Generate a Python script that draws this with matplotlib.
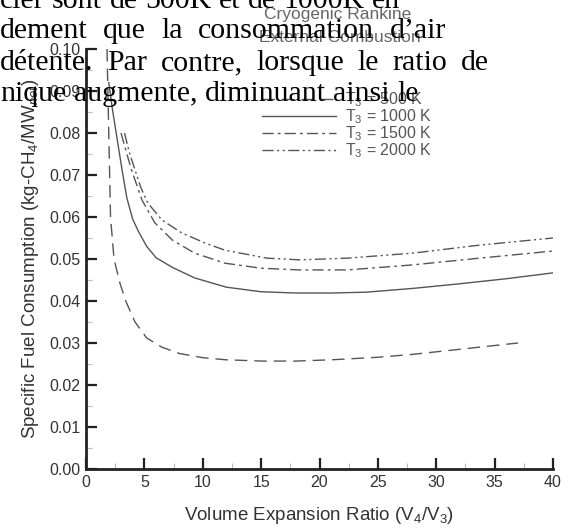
import matplotlib
matplotlib.use("Agg")
import matplotlib.pyplot as plt
from matplotlib.ticker import MultipleLocator, FormatStrFormatter

plt.rcParams['font.family'] = ['Liberation Sans', 'DejaVu Sans']
plt.rcParams['mathtext.fontset'] = 'custom'
plt.rcParams['mathtext.rm'] = 'Liberation Sans'
plt.rcParams['mathtext.it'] = 'Liberation Sans:italic'

# curves
x_500 = [1.8, 1.95, 2.1, 2.4, 2.9, 3.4, 4.2, 5.2, 6.5, 8.0, 10.0, 12.0, 15.0, 18.0, 21.0, 25.0, 28.0, 31.0, 34.0, 37.0]
y_500 = [0.100, 0.080, 0.060, 0.050, 0.0443, 0.0400, 0.0350, 0.0312, 0.0290, 0.0275, 0.0265, 0.0260, 0.0257, 0.0257, 0.0260, 0.0266, 0.0273, 0.0282, 0.0291, 0.0300]

x_1000 = [1.95, 2.3, 2.7, 3.1, 3.5, 4.0, 4.5, 5.2, 6.0, 7.4, 9.3, 12.0, 15.0, 18.0, 21.0, 24.0, 28.0, 32.0, 36.0, 40.0]
y_1000 = [0.092, 0.085, 0.078, 0.071, 0.0645, 0.0595, 0.0565, 0.0530, 0.0503, 0.0480, 0.0455, 0.0433, 0.0422, 0.0419, 0.0419, 0.0421, 0.0430, 0.0441, 0.0453, 0.0467]

x_1500 = [3.0, 3.4, 3.9, 4.8, 5.9, 7.4, 9.3, 11.9, 15.0, 18.3, 22.4, 28.0, 33.7, 40.0]
y_1500 = [0.080, 0.076, 0.0712, 0.0640, 0.0586, 0.0545, 0.0514, 0.0490, 0.0478, 0.0474, 0.0474, 0.0486, 0.0502, 0.0519]

x_2000 = [3.3, 3.7, 4.2, 4.7, 5.3, 6.5, 8.2, 10.2, 11.9, 15.5, 18.3, 22.4, 28.0, 33.7, 40.0]
y_2000 = [0.080, 0.0755, 0.0712, 0.0670, 0.0633, 0.0593, 0.0562, 0.0538, 0.0521, 0.0502, 0.0498, 0.0502, 0.0514, 0.0533, 0.0550]

labels = [r'T$_3$ = 500 K', r'T$_3$ = 1000 K', r'T$_3$ = 1500 K', r'T$_3$ = 2000 K']

# french text of the page that overlaps the scan
page_lines = [
    "cier sont de 500K et de 1000K en",
    "dement que la consommation d\u2019air",
    "d\u00e9tente. Par contre, lorsque le ratio de",
    "nique augmente, diminuant ainsi le",
]
page_baselines = [8, 38, 70, 101]
page_widths = [388, 446, 489, 415]   # right edge of each line in the scan

gray = '#555555'
W, H = 572, 529
fig = plt.figure(figsize=(W / 100, H / 100), dpi=100)
ax = fig.add_axes([86 / W, 1 - 469 / H, (553 - 86) / W, (469 - 49) / H])

ax.plot(x_500, y_500, color=gray, lw=1.0, dashes=(9, 5), label=labels[0])
ax.plot(x_1000, y_1000, color=gray, lw=1.0, label=labels[1])
ax.plot(x_1500, y_1500, color=gray, lw=1.0, dashes=(8, 3, 2, 3), label=labels[2])
ax.plot(x_2000, y_2000, color=gray, lw=1.0, dashes=(8, 2.5, 1.5, 2.5, 1.5, 2.5), label=labels[3])

ax.set_xlim(0, 40)
ax.set_ylim(0, 0.10)
ax.xaxis.set_major_locator(MultipleLocator(5))
ax.xaxis.set_minor_locator(MultipleLocator(2.5))
ax.yaxis.set_major_locator(MultipleLocator(0.01))
ax.yaxis.set_minor_locator(MultipleLocator(0.005))
ax.yaxis.set_major_formatter(FormatStrFormatter('%.2f'))
ax.tick_params(which='major', direction='in', length=8, width=1.6, color='#222222',
               labelsize=11.5, labelcolor='#333333', pad=4)
ax.tick_params(which='minor', direction='in', length=4, width=0.8, color='#bbbbbb')
ax.spines['top'].set_visible(False)
ax.spines['right'].set_visible(False)
for s in ['left', 'bottom']:
    ax.spines[s].set_linewidth(2)
    ax.spines[s].set_color('#222222')

ax.set_xlabel(r'Volume Expansion Ratio (V$_4$/V$_3$)', fontsize=13.5, color='#333333', labelpad=11)
ax.set_ylabel(r'Specific Fuel Consumption (kg-CH$_4$/MW$_{net}$)', fontsize=13.5, color='#333333', labelpad=6)

fig.text(338 / W, 1 - 15 / H, 'Cryogenic Rankine', ha='center', va='center', fontsize=12.5, color='#666666')
fig.text(340 / W, 1 - 38 / H, 'External Combustion', ha='center', va='center', fontsize=12.5, color='#666666')

leg = ax.legend(loc='upper left', bbox_to_anchor=(248 / W, 1 - 76 / H), bbox_transform=fig.transFigure,
                frameon=False, fontsize=11.5, handlelength=4.6, handletextpad=0.6, labelspacing=-0.1)
for t in leg.get_texts():
    t.set_color('#555555')

# page text overlay, each line spread word by word towards its width in the scan
serif = ['Liberation Serif', 'DejaVu Serif']
fs_page = 21.5
renderer = fig.canvas.get_renderer()
space = fig.text(0, 0, 'a a', fontsize=fs_page, family=serif).get_window_extent(renderer).width \
    - 2 * fig.text(0, 0, 'a', fontsize=fs_page, family=serif).get_window_extent(renderer).width
for t in fig.texts[-2:]:
    t.remove()
for line, b, width in zip(page_lines, page_baselines, page_widths):
    y = 1 - b / H
    words = line.split(' ')
    arts = [fig.text(0, y, w, ha='left', va='baseline', fontsize=fs_page, family=serif, color='black')
            for w in words]
    ws = [a.get_window_extent(renderer).width for a in arts]
    gap = max(space, (width - sum(ws)) / (len(words) - 1))
    xpos = 0
    for a, wd in zip(arts, ws):
        a.set_x(xpos / W)
        xpos += wd + gap

fig.savefig('out.png', dpi=100)
